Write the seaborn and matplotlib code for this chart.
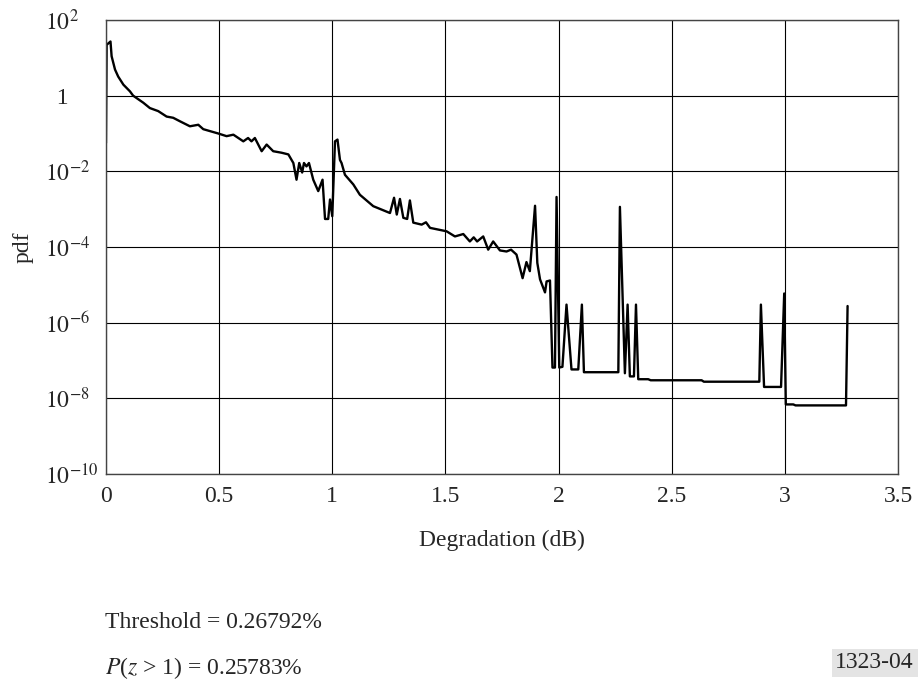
import pandas as pd
import seaborn as sns
import matplotlib.pyplot as plt
from matplotlib.ticker import FixedLocator, FixedFormatter

# degradation (dB) and pdf values
degradation = [0.000, 0.003, 0.020, 0.025, 0.040, 0.054, 0.077, 0.106, 0.120, 0.165,
               0.194, 0.231, 0.268, 0.297, 0.327, 0.371, 0.408, 0.430, 0.496, 0.533,
               0.563, 0.607, 0.628, 0.643, 0.658, 0.688, 0.710, 0.739, 0.776, 0.806,
               0.828, 0.842, 0.854, 0.867, 0.875, 0.886, 0.897, 0.916, 0.938, 0.957,
               0.968, 0.982, 0.990, 1.000, 1.012, 1.023, 1.034, 1.041, 1.056, 1.093,
               1.122, 1.181, 1.255, 1.273, 1.285, 1.299, 1.314, 1.331, 1.343, 1.358,
               1.395, 1.414, 1.432, 1.505, 1.542, 1.579, 1.608, 1.625, 1.640, 1.667,
               1.689, 1.711, 1.741, 1.770, 1.790, 1.814, 1.841, 1.858, 1.873, 1.896,
               1.906, 1.918, 1.940, 1.947, 1.962, 1.973, 1.984, 1.991, 2.003, 2.017,
               2.035, 2.057, 2.087, 2.103, 2.112, 2.264, 2.271, 2.293, 2.305, 2.315,
               2.333, 2.342, 2.352, 2.396, 2.407, 2.632, 2.642, 2.887, 2.894, 2.908,
               2.983, 2.997, 3.004, 3.037, 3.047, 3.270, 3.277]
pdf = [5.6e-2, 22, 27, 11, 4.9, 3.2, 1.95, 1.3, 1.0, 0.65,
       0.47, 0.39, 0.28, 0.26, 0.21, 0.155, 0.17, 0.13, 0.10, 0.085,
       0.093, 0.062, 0.076, 0.062, 0.076, 0.034, 0.051, 0.034, 0.031, 0.028,
       0.0166, 0.006, 0.0166, 0.0093, 0.0166, 0.0135, 0.0166, 0.006, 0.003, 0.006,
       5.5e-4, 5.5e-4, 1.8e-3, 6.5e-4, 0.062, 0.069, 0.020, 0.0166, 8.1e-3, 4.5e-3,
       2.4e-3, 1.2e-3, 7.9e-4, 2.0e-3, 7.2e-4, 1.86e-3, 5.9e-4, 5.5e-4, 1.7e-3, 4.4e-4,
       3.9e-4, 4.5e-4, 3.2e-4, 2.6e-4, 1.9e-4, 2.2e-4, 1.4e-4, 1.8e-4, 1.4e-4, 1.9e-4,
       8.5e-5, 1.4e-4, 8.1e-5, 7.6e-5, 8.5e-5, 6.3e-5, 1.5e-5, 4.0e-5, 2.3e-5, 1.23e-3,
       3.8e-5, 1.4e-5, 6.3e-6, 1.23e-5, 1.3e-5, 6.5e-8, 6.5e-8, 2.1e-3, 6.5e-8, 6.8e-8,
       3.0e-6, 5.8e-8, 5.8e-8, 3.0e-6, 4.9e-8, 4.9e-8, 1.15e-3, 4.6e-8, 3.0e-6, 3.8e-8,
       3.8e-8, 3.0e-6, 3.2e-8, 3.2e-8, 3.0e-8, 3.0e-8, 2.75e-8, 2.75e-8, 3.0e-6, 2.0e-8,
       2.0e-8, 5.9e-6, 6.9e-9, 6.9e-9, 6.5e-9, 6.5e-9, 2.75e-6]

x_ticks = [0, 0.5, 1, 1.5, 2, 2.5, 3, 3.5]
x_labels = ["0", "0.5", "1", "1.5", "2", "2.5", "3", "3.5"]
y_ticks = [1e2, 1, 1e-2, 1e-4, 1e-6, 1e-8, 1e-10]
y_labels = ["$10^{2}$", "  1", "$10^{-2}$", "$10^{-4}$", "$10^{-6}$", "$10^{-8}$", "$10^{-10}$"]

df = pd.DataFrame({"Degradation (dB)": degradation, "pdf": pdf})

sns.set_style("white")
plt.rcParams["font.family"] = ["Liberation Serif", "DejaVu Serif"]
plt.rcParams["mathtext.fontset"] = "stix"
plt.rcParams["font.size"] = 17

fig = plt.figure(figsize=(9.19, 6.82), dpi=100)
ax = fig.add_axes([0.1153, 0.305, 0.8619, 0.6657])

sns.lineplot(data=df, x="Degradation (dB)", y="pdf", ax=ax, color="black",
             linewidth=1.7, estimator=None, sort=False)

ax.set_yscale("log")
ax.set_xlim(0, 3.5)
ax.set_ylim(1e-10, 1e2)

ax.xaxis.set_major_locator(FixedLocator(x_ticks))
ax.xaxis.set_major_formatter(FixedFormatter(x_labels))
ax.yaxis.set_major_locator(FixedLocator(y_ticks))
ax.yaxis.set_major_formatter(FixedFormatter(y_labels))
ax.yaxis.set_minor_locator(FixedLocator([]))
ax.tick_params(axis="both", length=0, labelsize=17)
ax.tick_params(axis="x", pad=9)
ax.tick_params(axis="y", pad=44)
for lbl in ax.get_yticklabels():
    lbl.set_horizontalalignment("left")

ax.grid(True, color="black", linewidth=0.8)
for s in ax.spines.values():
    s.set_color("#444444")
    s.set_linewidth(1.0)

ax.set_xlabel("Degradation (dB)", fontsize=17, labelpad=16)
ax.set_ylabel("pdf", fontsize=17, labelpad=8)

fig.text(105 / 919, 1 - 622 / 682, "Threshold = 0.26792%", fontsize=17, va="center", ha="left")
fig.text(105 / 919, 1 - 668 / 682, "$P$($z$ > 1) = 0.25783%", fontsize=17, va="center", ha="left")
fig.text(914 / 919, 1 - 663 / 682, "1323-04", fontsize=17, va="center", ha="right",
         bbox=dict(boxstyle="square,pad=0.15", facecolor="#e4e4e4", edgecolor="none"))

fig.savefig("out.png", dpi=100)
